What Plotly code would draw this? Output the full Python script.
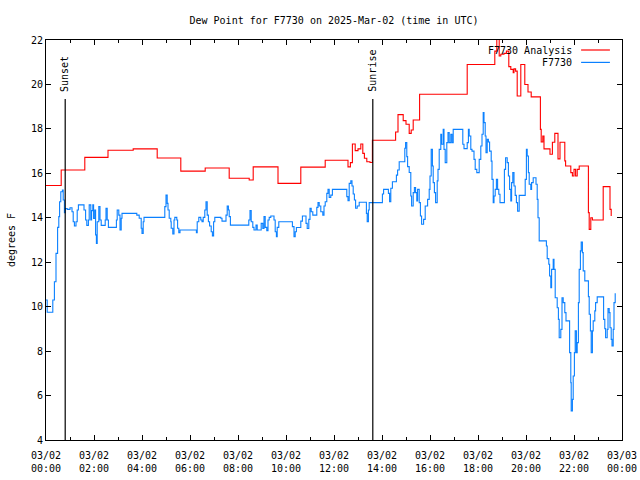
import plotly.graph_objects as go
import pandas as pd

# ---- data ----
base_date = "2025-03-02"
title_text = "Dew Point for F7730 on 2025-Mar-02 (time in UTC)"
y_title = "degrees F"
series_names = ["F7730 Analysis", "F7730"]
sunset_min = 48
sunrise_min = 817

analysis_min = [0, 38, 97, 155, 218, 278, 337, 398, 458, 508, 518, 580, 637, 698, 755, 761, 766, 773,
                780, 787, 792, 796, 802, 810, 816, 874, 880, 893, 900, 908, 913, 918, 934, 1053, 1122,
                1127, 1133, 1137, 1145, 1151, 1157, 1162, 1168, 1170, 1174, 1178, 1187, 1197, 1205, 1213,
                1236, 1238, 1242, 1245, 1260, 1266, 1272, 1280, 1285, 1297, 1299, 1312, 1316, 1320, 1324,
                1328, 1333, 1356, 1358, 1362, 1366, 1393, 1410, 1413]
analysis_val = [15.45, 16.15, 16.72, 17.04, 17.10, 16.69, 16.10, 16.24, 15.78, 15.70, 16.29, 15.55, 16.28,
                16.59, 16.29, 16.48, 17.32, 17.02, 17.10, 17.32, 16.90, 16.68, 16.52, 16.49, 17.49, 17.86,
                18.64, 18.37, 18.21, 17.80, 17.95, 18.40, 19.56, 20.90, 21.50, 22.20, 21.28, 21.36, 21.40,
                21.50, 20.80, 20.68, 20.53, 20.70, 20.60, 19.48, 20.90, 20.00, 19.66, 19.44, 17.98, 17.41,
                17.68, 17.10, 16.86, 17.40, 17.80, 16.65, 17.40, 16.56, 16.33, 16.03, 15.88, 16.18, 15.88,
                16.18, 16.33, 14.23, 13.48, 14.00, 13.90, 15.40, 14.38, 14.08]

obs_min = [0, 3, 17, 21, 25, 29, 32, 34, 37, 41, 43, 46, 48, 53, 60, 65, 68, 71, 75, 78, 81, 95, 99, 102,
           106, 108, 112, 114, 117, 119, 122, 124, 126, 128, 132, 135, 138, 148, 150, 153, 156, 176, 178,
           182, 185, 188, 190, 227, 233, 238, 240, 243, 245, 297, 300, 303, 305, 308, 312, 313, 317, 320,
           322, 327, 329, 332, 335, 376, 378, 382, 387, 390, 393, 397, 400, 403, 406, 409, 413, 416, 419,
           422, 437, 440, 450, 453, 456, 458, 461, 507, 510, 513, 517, 520, 525, 528, 538, 542, 545, 548,
           552, 555, 558, 562, 570, 573, 576, 578, 582, 616, 620, 623, 626, 637, 641, 650, 653, 657, 660,
           663, 667, 677, 680, 683, 687, 692, 695, 698, 702, 705, 708, 712, 716, 752, 755, 758, 762, 765,
           768, 771, 774, 778, 783, 801, 803, 806, 808, 841, 844, 856, 859, 862, 866, 876, 879, 883, 897,
           899, 902, 904, 908, 912, 914, 918, 921, 924, 927, 929, 933, 936, 939, 944, 948, 954, 958, 960,
           963, 966, 968, 971, 974, 978, 980, 983, 987, 989, 993, 995, 998, 1002, 1005, 1008, 1012, 1015,
           1018, 1042, 1045, 1053, 1056, 1058, 1062, 1065, 1070, 1073, 1077, 1083, 1087, 1090, 1093, 1095,
           1098, 1100, 1103, 1106, 1109, 1113, 1115, 1118, 1120, 1123, 1126, 1129, 1132, 1135, 1146, 1149,
           1153, 1156, 1159, 1162, 1164, 1167, 1170, 1173, 1176, 1179, 1183, 1198, 1201, 1203, 1206, 1208,
           1212, 1214, 1218, 1225, 1228, 1230, 1233, 1251, 1253, 1257, 1259, 1262, 1264, 1268, 1270, 1273,
           1278, 1281, 1283, 1287, 1290, 1293, 1297, 1300, 1309, 1312, 1313, 1316, 1318, 1321, 1323, 1326,
           1328, 1331, 1333, 1336, 1338, 1341, 1343, 1347, 1356, 1358, 1361, 1363, 1366, 1368, 1372, 1374,
           1378, 1394, 1397, 1399, 1403, 1405, 1408, 1410, 1413, 1415, 1418, 1420, 1423]
obs_val = [10.30, 9.75, 10.30, 11.12, 12.40, 13.57, 14.05, 14.72, 15.17, 15.25, 14.80, 14.23, 14.42, 14.38,
           14.45, 14.27, 13.82, 13.63, 13.82, 14.35, 14.58, 14.35, 13.90, 13.66, 13.90, 14.58, 13.90, 14.32,
           14.58, 13.97, 14.35, 13.23, 12.85, 13.82, 14.50, 13.90, 13.66, 13.90, 14.43, 13.90, 13.57, 13.90,
           14.35, 14.12, 13.45, 13.98, 14.20, 14.12, 13.98, 13.53, 13.30, 13.82, 14.02, 14.50, 15.02, 14.65,
           14.35, 13.98, 13.82, 13.53, 13.27, 13.90, 14.02, 13.90, 13.53, 13.33, 13.45, 13.33, 13.82, 14.02,
           13.90, 13.82, 14.02, 14.35, 14.72, 14.12, 13.82, 13.63, 13.37, 13.18, 13.82, 14.02, 13.98, 13.85,
           14.12, 14.53, 14.35, 14.05, 13.67, 13.90, 14.32, 13.82, 13.57, 13.45, 13.67, 13.45, 13.75, 13.52,
           14.05, 13.57, 13.42, 13.90, 14.02, 14.08, 13.90, 13.37, 13.15, 13.57, 13.82, 13.60, 13.15, 13.37,
           13.56, 13.85, 14.08, 13.75, 13.52, 13.93, 14.43, 14.27, 14.12, 14.47, 14.68, 14.53, 14.27, 14.12,
           14.53, 14.72, 15.10, 15.28, 14.92, 15.02, 15.28, 14.95, 14.77, 15.55, 15.66, 15.43, 15.07, 14.80,
           14.43, 14.53, 14.70, 14.20, 13.82, 14.35, 14.68, 15.07, 15.28, 15.10, 14.72, 15.33, 15.62, 15.92,
           16.15, 16.52, 17.13, 17.38, 16.75, 16.30, 16.04, 14.98, 14.53, 15.13, 15.36, 15.13, 14.76, 15.28,
           14.68, 14.08, 13.71, 13.93, 14.53, 14.83, 15.28, 15.88, 17.08, 16.33, 15.58, 15.13, 14.68, 15.66,
           16.18, 17.08, 17.76, 17.31, 17.98, 17.08, 16.48, 17.38, 17.83, 17.38, 17.76, 17.38, 17.98, 17.31,
           17.11, 17.38, 17.98, 17.68, 17.08, 17.00, 16.63, 16.18, 16.03, 16.63, 17.23, 17.76, 18.73, 18.28,
           17.68, 16.93, 17.53, 17.41, 17.00, 16.55, 15.73, 14.68, 14.98, 15.28, 15.73, 15.28, 15.06, 14.68,
           16.18, 16.70, 16.48, 15.88, 15.28, 14.76, 15.58, 16.03, 15.43, 15.01, 14.68, 14.30, 15.01, 15.73,
           17.08, 16.78, 16.03, 15.51, 15.28, 15.58, 15.80, 15.51, 14.83, 14.00, 12.96, 12.73, 12.16, 11.91,
           11.38, 10.85, 11.68, 12.13, 11.68, 10.40, 9.95, 9.43, 8.60, 8.98, 10.40, 10.18, 9.73, 9.36, 7.93,
           6.58, 5.31, 5.83, 6.88, 7.93, 8.91, 7.93, 8.38, 10.18, 11.68, 12.51, 12.91, 12.43, 11.61, 11.16,
           10.45, 9.66, 8.91, 7.93, 8.91, 9.36, 9.81, 10.18, 10.44, 9.43, 9.01, 8.60, 8.98, 9.91, 9.73, 9.05,
           8.53, 8.23, 8.98, 10.18, 10.60]

y_range = [4, 22]
y_dtick = 2

# ---- build ----
t0 = pd.Timestamp(base_date)
def to_t(mins):
    return [t0 + pd.Timedelta(minutes=m) for m in mins]

RED = "#FF0000"
BLUE = "#0A80FF"
FONT = "DejaVu Sans Mono"

fig = go.Figure()
fig.add_trace(go.Scatter(x=to_t(analysis_min), y=analysis_val, mode="lines", line_shape="hv",
                         line=dict(color=RED, width=1.1), name=series_names[0]))
fig.add_trace(go.Scatter(x=to_t(obs_min), y=obs_val, mode="lines", line_shape="hv",
                         line=dict(color=BLUE, width=1.1), name=series_names[1]))

line_top = 19.35
for m, label in [(sunset_min, "Sunset"), (sunrise_min, "Sunrise")]:
    tt = t0 + pd.Timedelta(minutes=m)
    fig.add_shape(type="line", x0=tt, x1=tt, y0=y_range[0], y1=line_top, xref="x", yref="y",
                  line=dict(color="black", width=1.2))
    fig.add_annotation(x=tt, y=line_top, text=label, textangle=-90, showarrow=False,
                       xanchor="center", yanchor="bottom", yshift=5,
                       font=dict(family=FONT, size=10, color="black"))

# legend (gnuplot style: text then line sample)
leg_rows = [(0.975, series_names[0], RED), (0.944, series_names[1], BLUE)]
for yy, name, col in leg_rows:
    fig.add_annotation(x=0.917, y=yy, xref="paper", yref="paper", text=name, showarrow=False,
                       xanchor="right", yanchor="middle", font=dict(family=FONT, size=10, color="black"))
    fig.add_shape(type="line", x0=0.929, x1=0.979, y0=yy, y1=yy, xref="paper", yref="paper",
                  line=dict(color=col, width=1.2))

fig.update_layout(
    width=640, height=480,
    margin=dict(l=46, r=18, t=40, b=40),
    paper_bgcolor="white", plot_bgcolor="white",
    showlegend=False,
    title=dict(text=title_text, x=0.5, xref="paper", y=1 - 20 / 480, yref="container",
               xanchor="center", yanchor="middle", font=dict(family=FONT, size=10, color="black")),
    font=dict(family=FONT, size=10, color="black"),
)
fig.update_xaxes(
    type="date", range=[t0, t0 + pd.Timedelta(hours=24)], automargin=False,
    dtick=2 * 3600000, tick0=t0, tickformat="%m/%d<br>%H:%M",
    ticks="inside", ticklen=5, tickcolor="black", ticklabelstandoff=6,
    minor=dict(dtick=3600000, ticks="inside", ticklen=3, tickcolor="black"),
    showline=True, linecolor="black", linewidth=1, mirror="allticks",
    showgrid=False, zeroline=False,
    tickfont=dict(family=FONT, size=10, color="black"),
)
fig.update_yaxes(
    range=y_range, dtick=y_dtick, tick0=0, automargin=False,
    ticks="inside", ticklen=5, tickcolor="black",
    showline=True, linecolor="black", linewidth=1, mirror="allticks",
    showgrid=False, zeroline=False,
    title=dict(text=y_title, standoff=13, font=dict(family=FONT, size=10, color="black")),
    tickfont=dict(family=FONT, size=10, color="black"),
)

fig.write_html("out.html")
